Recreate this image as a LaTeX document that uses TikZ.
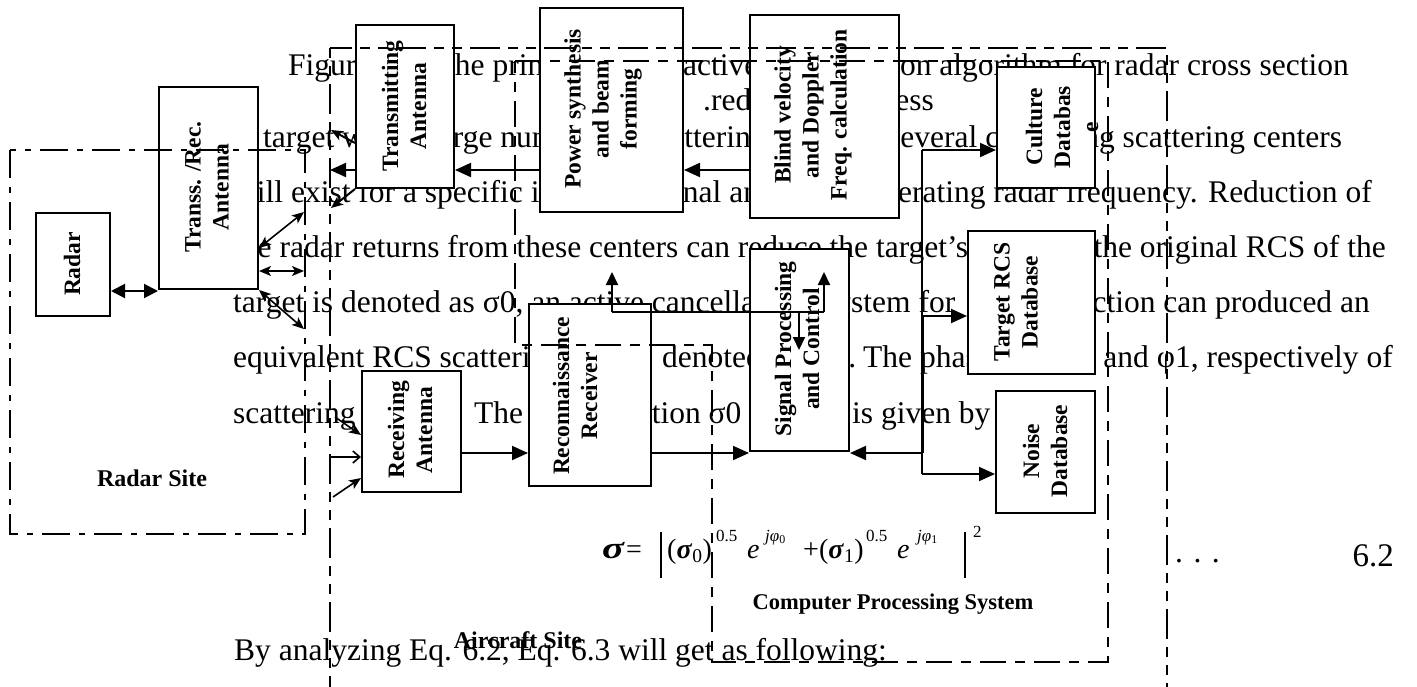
\documentclass[tikz,border=0pt]{standalone}
\usepackage{fontspec}
\setmainfont{Liberation Serif}
\usetikzlibrary{arrows.meta}
\begin{document}
\begin{tikzpicture}[x=1pt,y=-1pt,
  blk/.style={draw,line width=2pt,fill=white,inner sep=0pt,anchor=north west},
  lbl/.style={rotate=90,align=center,inner sep=0pt,font=\fontsize{23.5}{28}\selectfont\bfseries},
  bt/.style={anchor=base west,inner sep=0pt,font=\fontsize{31.5}{36}\selectfont},
  bte/.style={anchor=base east,inner sep=0pt,font=\fontsize{31.5}{36}\selectfont},
  site/.style={inner sep=0pt,font=\fontsize{24}{28}\selectfont\bfseries},
  eqn/.style={anchor=base west,inner sep=0pt,font=\fontsize{28}{30}\selectfont},
  eqs/.style={anchor=base west,inner sep=0pt,font=\fontsize{17}{19}\selectfont},
  arr/.style={line width=2pt,-{Triangle[length=16pt,width=14pt]}},
  sarr/.style={line width=2pt,-{Triangle[length=13pt,width=12pt]}},
  dbl/.style={line width=1.6pt,{Stealth[length=12pt,width=10pt,inset=3pt]}-{Stealth[length=12pt,width=10pt,inset=3pt]}},
  one/.style={line width=1.6pt,-{Stealth[length=12pt,width=10pt,inset=3pt]}},
  bar/.style={line width=1.6pt,-{Straight Barb[length=7pt,width=12pt]}},
  rsite/.style={line width=2pt,dash pattern=on 28pt off 9pt on 6pt off 9pt},
  asite/.style={line width=2pt,dash pattern=on 10pt off 8pt on 10pt off 8pt on 30pt off 8pt},
  cps/.style={line width=2pt,dash pattern=on 26pt off 9pt on 10pt off 9pt},
  plain/.style={line width=2pt}
]
\clip (0,0) rectangle (1417,686);
\fill[white] (0,0) rectangle (1417,686);
\useasboundingbox (0,0) rectangle (1417,686);

% ---------- body text ----------
\node[bt] (t1a) at (288,75) {Figure};
\node[bt] (t1b) at (446,75) {the principle of};
\node[bt] (t1c) at (683,75) {active};
\node[bte] (t1d) at (1349,75) {on algorithm for radar cross section};
\node[bt] (t2a) at (703,110) {.reduction};
\node[bte] (t2b) at (934,110) {less};
\node[bt] (t3a) at (263,147) {target with};
\node[bt] (t3b) at (430,147) {large number of};
\node[bt] (t3c) at (644,147) {scattering centers,};
\node[bt] (t3d) at (888,147) {several cancelling scattering centers};
\node[bt] (t4a) at (234,202) {will exist for a specific incident};
\node[bt] (t4b) at (646,202) {signal and};
\node[bte] (t4c) at (1372,202) {operating radar frequency. Reduction of};
\node[bt] (t5a) at (233,257) {the radar returns from these centers can reduce the target's};
\node[bte] (t5b) at (1386,257) {the original RCS of the};
\node[bt] (t6a) at (233,312) {target is denoted as σ0, an active cancellation};
\node[bt] (t6b) at (823,312) {system for};
\node[bte] (t6c) at (1370,312) {reduction can produced an};
\node[bt] (t7a) at (233,367) {equivalent RCS scattering center};
\node[bt] (t7b) at (662,367) {\makebox[194pt][s]{denoted as σ1.}};
\node[bt] (t7c) at (863,367) {The phases φ0};
\node[bte] (t7d) at (1393,367) {and φ1, respectively of};
\node[bt] (t8a) at (233,423) {scattering centers.};
\node[bt] (t8b) at (474,423) {The superposition σ0 and σ1};
\node[bt] (t8c) at (852,423) {is given by};

% ---------- boxes ----------
\node[blk,minimum width=74pt,minimum height=103pt] (radar) at (35,212) {};
\node[blk,minimum width=99pt,minimum height=202pt] (trans) at (158,86) {};
\node[blk,minimum width=98pt,minimum height=163pt] (txa) at (355,24) {};
\node[blk,minimum width=143pt,minimum height=204pt] (power) at (539,7) {};
\node[blk,minimum width=149pt,minimum height=203pt] (blind) at (749,14) {};
\node[blk,minimum width=98pt,minimum height=121pt] (culture) at (996,66) {};
\node[blk,minimum width=127pt,minimum height=143pt] (target) at (967,230) {};
\node[blk,minimum width=99pt,minimum height=122pt] (noise) at (995,390) {};
\node[blk,minimum width=99pt,minimum height=121pt] (rxa) at (361,370) {};
\node[blk,minimum width=122pt,minimum height=182pt] (recon) at (528,303) {};
\node[blk,minimum width=99pt,minimum height=202pt] (sig) at (749,248) {};

\node[lbl] (lradar) at (72,264) {Radar};
\node[lbl] (ltrans) at (207,187) {Transs. /Rec.\\Antenna};
\node[lbl] (ltxa) at (404,106) {Transmitting\\Antenna};
\node[lbl] (lpower) at (603,109) {Power synthesis\\and beam\\forming};
\node[lbl] (lblind) at (813,115) {Blind velocity\\and Doppler\\Freq. calculation};
\node[lbl] (lculture) at (1062,127) {Culture\\Databas\\e};
\node[lbl] (ltarget) at (1016,302) {Target RCS\\Database};
\node[lbl] (lnoise) at (1045,451) {Noise\\Database};
\node[lbl] (lrxa) at (410,430) {Receiving\\Antenna};
\node[lbl] (lrecon) at (575,396) {Reconnaissance\\Receiver};
\node[lbl] (lsig) at (797,349) {Signal Processing\\and Control};

% ---------- dashed regions ----------
\draw[rsite] (10,150) rectangle (305,534);
\draw[asite] (330,48) rectangle (1167,720);
\draw[cps] (515,61) -- (1108,61) -- (1108,662) -- (712,662) -- (712,345) -- (515,345) -- cycle;

\node[site] (lrsite) at (152,478) {Radar Site};
\node[site] (lasite) at (518,640) {Aircraft Site};
\node[site,font=\fontsize{22.5}{26}\selectfont\bfseries] (lcps) at (893,604) {Computer Processing System};

% ---------- level coordinates ----------
\coordinate (L143) at (0,143);
\coordinate (L170) at (0,170);
\coordinate (L150) at (0,150);
\coordinate (L248) at (0,248);
\coordinate (L271) at (0,271);
\coordinate (L291) at (0,291);
\coordinate (L316) at (0,316);
\coordinate (L435) at (0,435);
\coordinate (L453) at (0,453);
\coordinate (L457) at (0,457);
\coordinate (L474) at (0,474);
\coordinate (L478) at (0,478);

% transmit chain
\draw[arr] (blind.west |- L170) -- (power.east |- L170);
\draw[arr] (power.west |- L170) -- (txa.east |- L170);
\coordinate (tA) at (330,170);
\coordinate (tB) at (331,130);
\coordinate (tC) at (331,208);
\draw[arr] (txa.west |- L170) -- (tA);
\draw[one,line width=2pt] (txa.west |- L143) -- (tB);
\draw[one,line width=2pt] (txa.south west) -- (tC);

% radar <-> trans
\draw[line width=2pt,{Triangle[length=14pt,width=14pt]}-{Triangle[length=14pt,width=14pt]}] (radar.east |- L291) -- (trans.west |- L291);

% trans right side
\coordinate (c1) at (304,212);
\coordinate (c2) at (304,271);
\coordinate (c3) at (304,329);
\draw[dbl] (trans.east |- L248) -- (c1);
\draw[dbl] (trans.east |- L271) -- (c2);
\draw[dbl] (trans.south east) -- (c3);

% receiving antenna inputs
\coordinate (r1) at (335,417);
\coordinate (r2) at (331,457);
\coordinate (r3) at (333,497);
\draw[one] (r1) -- (rxa.west |- L435);
\draw[bar] (r2) -- (rxa.west |- L457);
\draw[one] (r3) -- (rxa.west |- L478);

% receive chain
\draw[arr] (rxa.east |- L453) -- (recon.west |- L453);
\draw[arr] (recon.east |- L453) -- (sig.west |- L453);

% bus
\coordinate (b1) at (922,150);
\coordinate (b2) at (922,316);
\coordinate (b3) at (922,453);
\coordinate (b4) at (922,474);
\draw[plain] (b1) -- (b4);
\draw[line width=3pt] (b2) -- (b3);
\draw[arr] (b3) -- (sig.east |- L453);
\draw[arr] (b1) -- (culture.west |- L150);
\draw[arr] (b2) -- (target.west |- L316);
\draw[arr] (b4) -- (noise.west |- L474);

% recon / signal link
\coordinate (k1) at (612,312);
\coordinate (k2) at (824,312);
\coordinate (k3) at (799,312);
\coordinate (k1t) at (612,272);
\coordinate (k2t) at (824,272);
\coordinate (k3t) at (799,350);
\draw[plain] (k1) -- (k2);
\draw[sarr] (k1) -- (k1t);
\draw[sarr] (k2) -- (k2t);
\draw[sarr] (k3) -- (k3t);

% ---------- equation ----------
\node[eqn] (e1) at (602,558) {\scalebox{1.45}[1.1]{\textbf{\textit{σ}}}\kern1pt=};
\draw[line width=1.4pt] (661,532) -- (661,578);
\node[eqn] (e2) at (667,558) {(\textbf{\textit{σ}}\textsubscript{0})};
\node[eqs] (e3) at (716,541) {0.5};
\node[eqn] (e4) at (747,558) {\textit{e}};
\node[eqs] (e5) at (765,541) {\textit{jφ}\textsubscript{0}};
\node[eqn] (e6) at (803,558) {+(\textbf{\textit{σ}}\textsubscript{1})};
\node[eqs] (e7) at (866,541) {0.5};
\node[eqn] (e8) at (897,558) {\textit{e}};
\node[eqs] (e9) at (917,541) {\textit{jφ}\textsubscript{1}};
\draw[line width=1.4pt] (965,532) -- (965,578);
\node[eqs] (e10) at (973,537) {2};
\node[bt] (dots) at (1175,562) {. . .};
\node[bte,font=\fontsize{33}{36}\selectfont] (eqno) at (1394,566) {6.2};

\node[bt] (t9) at (234,660) {By analyzing Eq. 6.2, Eq. 6.3 will get as following:};
\end{tikzpicture}
\end{document}
